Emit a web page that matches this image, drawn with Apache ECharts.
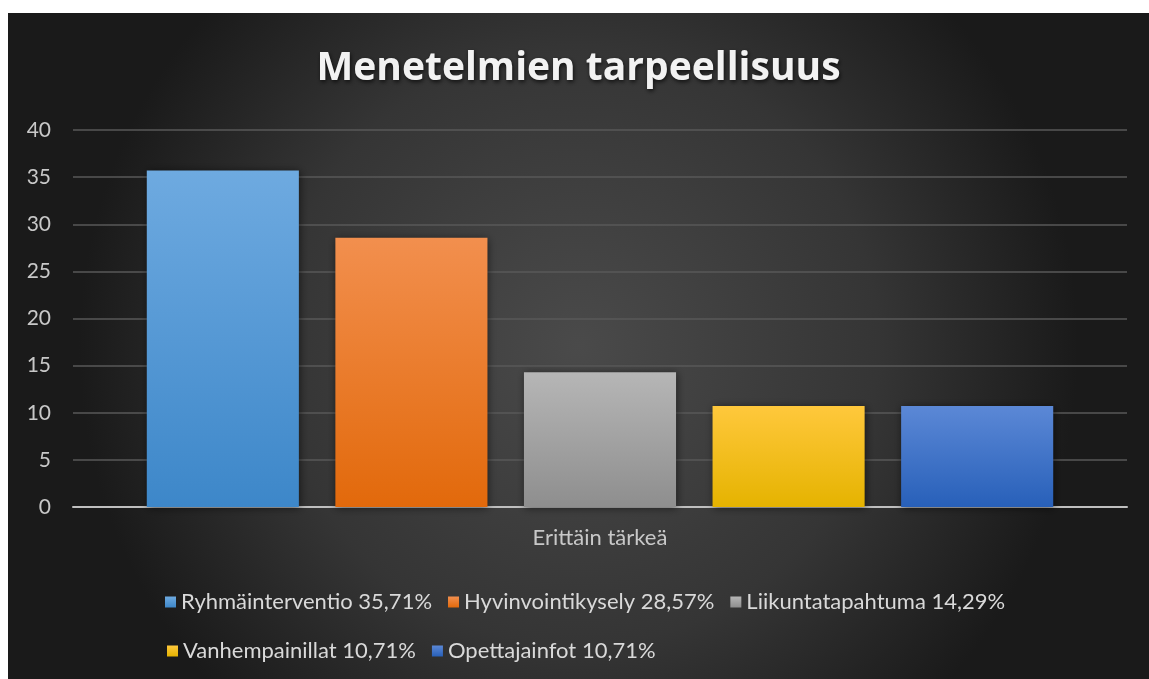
<!DOCTYPE html>
<html>
<head>
<meta charset="utf-8">
<script src="https://cdn.jsdelivr.net/npm/echarts@6/dist/echarts.min.js"></script>
<style>
html,body{margin:0;padding:0;background:#ffffff;width:1149px;height:679px;overflow:hidden;}
#c{position:absolute;left:8px;top:13px;width:1141px;height:666px;}
</style>
</head>
<body>
<div id="c"></div>
<script>
const categories = ['Erittäin tärkeä'];
const seriesNames = ['Ryhmäinterventio 35,71%', 'Hyvinvointikysely 28,57%', 'Liikuntatapahtuma 14,29%', 'Vanhempainillat 10,71%', 'Opettajainfot 10,71%'];
const seriesValues = [35.71, 28.57, 14.29, 10.71, 10.71];
const topColors = ['#6eaae0', '#f28f4e', '#b6b6b6', '#ffc83c', '#5b88d6'];
const bottomColors = ['#3d87c9', '#e2690b', '#8e8e8e', '#e5b300', '#2860b9'];
const yTicks = {min: 0, max: 40, interval: 5};

const chart = echarts.init(document.getElementById('c'));
const font = 'Lato, "Open Sans", sans-serif';
const series = seriesNames.map((n, i) => ({
  name: n,
  type: 'bar',
  data: [seriesValues[i]],
  barGap: '24%',
  barCategoryGap: '14%',
  itemStyle: {
    color: new echarts.graphic.LinearGradient(0, 0, 0, 1, [
      {offset: 0, color: topColors[i]},
      {offset: 1, color: bottomColors[i]}
    ]),
    shadowBlur: 8,
    shadowColor: 'rgba(0,0,0,0.55)',
    shadowOffsetX: 1,
    shadowOffsetY: 1
  }
}));

const legendText = {fontFamily: font, fontSize: 22, color: '#d9d9d9'};

chart.setOption({
  backgroundColor: new echarts.graphic.RadialGradient(0.5, 0.5, 0.75, [
    {offset: 0, color: '#4a4a4a'},
    {offset: 0.6, color: '#353535'},
    {offset: 1, color: '#1a1a1a'}
  ]),
  animation: false,
  title: {
    text: 'Menetelmien tarpeellisuus',
    left: 'center',
    top: 31,
    textStyle: {
      fontFamily: '"Open Sans", Lato, sans-serif',
      fontSize: 39,
      fontWeight: 'bold',
      color: '#f2f2f2',
      textShadowColor: 'rgba(0,0,0,0.7)',
      textShadowBlur: 4,
      textShadowOffsetX: 1,
      textShadowOffsetY: 2
    }
  },
  legend: [
    {
      data: seriesNames.slice(0, 3),
      left: 152,
      top: 573,
      itemWidth: 11,
      itemHeight: 11,
      itemGap: 16,
      icon: 'rect',
      textStyle: legendText
    },
    {
      data: seriesNames.slice(3),
      left: 154,
      top: 622,
      itemWidth: 11,
      itemHeight: 11,
      itemGap: 16,
      icon: 'rect',
      textStyle: legendText
    }
  ],
  grid: {left: 65, right: 22, top: 117, bottom: 172},
  xAxis: {
    type: 'category',
    data: categories,
    axisLine: {lineStyle: {color: '#bfbfbf', width: 2}},
    axisTick: {show: false},
    axisLabel: {fontFamily: font, fontSize: 22, color: '#c8c8c8', margin: 20}
  },
  yAxis: {
    type: 'value',
    min: yTicks.min,
    max: yTicks.max,
    interval: yTicks.interval,
    axisLine: {show: false},
    axisTick: {show: false},
    axisLabel: {fontFamily: font, fontSize: 21, color: '#c8c8c8', margin: 22},
    splitLine: {lineStyle: {color: '#585858', width: 1.5}}
  },
  series: series
});
</script>
</body>
</html>
